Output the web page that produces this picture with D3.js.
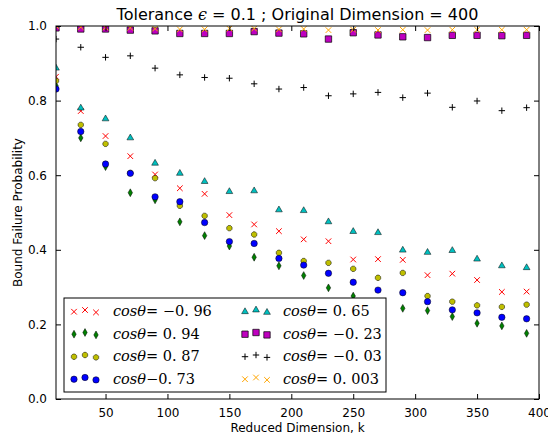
<!DOCTYPE html>
<html><head><meta charset="utf-8">
<script src="https://cdn.jsdelivr.net/npm/d3@7"></script>
<style>body{margin:0;background:#fff}</style>
</head><body>
<svg id="c" width="548" height="439"></svg>
<script>
const ks = [10,30,50,70,90,110,130,150,170,190,210,230,250,270,290,310,330,350,370,390];
const labels = ["−0.96","0.94","0.87","0.73","0.65","−0.23","−0.03","0.003"];
const seriesRed    = [0.864,0.772,0.705,0.651,0.602,0.565,0.550,0.493,0.468,0.450,0.428,0.423,0.374,0.375,0.373,0.332,0.336,0.319,0.287,0.288];
const seriesGreen  = [0.840,0.700,0.623,0.553,0.534,0.475,0.438,0.410,0.380,0.357,0.331,0.298,0.276,0.260,0.243,0.237,0.221,0.203,0.196,0.176];
const seriesYellow = [0.853,0.735,0.684,0.606,0.592,0.518,0.491,0.458,0.441,0.392,0.370,0.365,0.349,0.325,0.338,0.276,0.261,0.251,0.247,0.253];
const seriesBlue   = [0.831,0.717,0.630,0.605,0.542,0.529,0.473,0.422,0.417,0.377,0.359,0.337,0.313,0.292,0.285,0.261,0.239,0.231,0.219,0.215];
const seriesTeal   = [0.887,0.780,0.751,0.700,0.632,0.605,0.583,0.556,0.558,0.507,0.505,0.475,0.449,0.446,0.399,0.393,0.398,0.375,0.357,0.352];
const seriesMag    = [0.995,0.992,0.992,0.989,0.987,0.980,0.980,0.980,0.985,0.981,0.979,0.965,0.982,0.976,0.971,0.969,0.975,0.975,0.974,0.975];
const seriesPlus   = [0.965,0.943,0.916,0.920,0.887,0.869,0.862,0.860,0.845,0.831,0.835,0.813,0.818,0.822,0.808,0.820,0.782,0.799,0.773,0.781];
const seriesOrange = [1.000,0.997,0.996,0.995,0.993,0.991,0.991,0.993,0.993,0.991,0.992,0.989,0.990,0.989,0.990,0.989,0.990,0.990,0.990,0.990];
const xTicks = [50,100,150,200,250,300,350,400];
const yTicks = [0.0,0.2,0.4,0.6,0.8,1.0];

const L=56, R=539, T=26, B=399;
const x = d3.scaleLinear().domain([10,400]).range([L,R]);
const y = d3.scaleLinear().domain([0,1]).range([B,T]);
const svg = d3.select("#c");

const xPath = r => `M${-r},${-r}L${r},${r}M${-r},${r}L${r},${-r}`;
const plusPath = r => `M${-r},0L${r},0M0,${-r}L0,${r}`;
const dPath = (w,h) => `M0,${-h}L${w},0L0,${h}L${-w},0Z`;
const octPath = r => { let p=""; for(let i=0;i<8;i++){const a=Math.PI/8+i*Math.PI/4; p+=(i?"L":"M")+(r*Math.cos(a)).toFixed(2)+","+(r*Math.sin(a)).toFixed(2);} return p+"Z"; };
const triPath = r => `M0,${-r}L${r*0.866},${r*0.5}L${-r*0.866},${r*0.5}Z`;
const sqPath = r => `M${-r},${-r}H${r}V${r}H${-r}Z`;
const circPath = r => d3.arc()({innerRadius:0,outerRadius:r,startAngle:0,endAngle:2*Math.PI});

const series = [
  {vals:seriesRed, path:xPath(2.8), fill:"none", stroke:"#ff0000", sw:1},
  {vals:seriesGreen, path:dPath(2.2,3.9), fill:"#008000", stroke:"#000", sw:0.5},
  {vals:seriesYellow, path:octPath(2.9), fill:"#bfbf00", stroke:"#000", sw:0.5},
  {vals:seriesBlue, path:circPath(3.2), fill:"#0000ff", stroke:"#000", sw:0.5},
  {vals:seriesTeal, path:triPath(3.9), fill:"#00bfbf", stroke:"#000", sw:0.5},
  {vals:seriesMag, path:sqPath(3.2), fill:"#bf00bf", stroke:"#000", sw:0.7},
  {vals:seriesPlus, path:plusPath(3.2), fill:"none", stroke:"#000", sw:1},
  {vals:seriesOrange, path:xPath(2.8), fill:"none", stroke:"#ffa500", sw:1}
];

svg.append("defs").append("clipPath").attr("id","clip")
  .append("rect").attr("x",L).attr("y",T).attr("width",R-L).attr("height",B-T);

const g = svg.append("g").attr("clip-path","url(#clip)");
series.forEach(s=>{
  g.append("g").selectAll("path").data(s.vals).join("path")
    .attr("d",s.path)
    .attr("transform",(d,i)=>`translate(${x(ks[i])},${y(d)})`)
    .attr("fill",s.fill).attr("stroke",s.stroke).attr("stroke-width",s.sw);
});

const tl = -5;
const fmt = d3.format(".1f");
svg.append("g").attr("transform",`translate(0,${B})`)
  .call(d3.axisBottom(x).tickValues(xTicks).tickSize(tl).tickPadding(9).tickFormat(d3.format("d")))
  .call(a=>a.select(".domain").remove());
svg.append("g").attr("transform",`translate(0,${T})`)
  .call(d3.axisTop(x).tickValues(xTicks).tickSize(tl).tickFormat(""))
  .call(a=>a.select(".domain").remove());
svg.append("g").attr("transform",`translate(${L},0)`)
  .call(d3.axisLeft(y).tickValues(yTicks).tickSize(tl).tickPadding(9).tickFormat(fmt))
  .call(a=>a.select(".domain").remove());
svg.append("g").attr("transform",`translate(${R},0)`)
  .call(d3.axisRight(y).tickValues(yTicks).tickSize(tl).tickFormat(""))
  .call(a=>a.select(".domain").remove());
svg.selectAll(".tick text").attr("font-family","DejaVu Sans").attr("font-size",12).attr("fill","#000");
svg.selectAll(".tick line").attr("stroke","#000");

svg.append("rect").attr("x",L).attr("y",T).attr("width",R-L).attr("height",B-T)
  .attr("fill","none").attr("stroke","#000").attr("stroke-width",1);

const title = svg.append("text").attr("x",(L+R)/2).attr("y",20).attr("text-anchor","middle")
  .attr("font-family","DejaVu Sans").attr("font-size",16);
title.append("tspan").text("Tolerance ");
title.append("tspan").attr("font-family","DejaVu Serif").attr("font-style","italic").text("ϵ");
title.append("tspan").text(" = 0.1 ; Original Dimension = 400");

svg.append("text").attr("x",(L+R)/2).attr("y",432).attr("text-anchor","middle")
  .attr("font-family","DejaVu Sans").attr("font-size",12).text("Reduced Dimension, k");
svg.append("text").attr("transform",`translate(22,${(T+B)/2}) rotate(-90)`).attr("text-anchor","middle")
  .attr("font-family","DejaVu Sans").attr("font-size",12).text("Bound Failure Probability");

const lg = svg.append("g");
lg.append("rect").attr("x",64).attr("y",298).attr("width",322).attr("height",94)
  .attr("fill","#fff").attr("stroke","#000").attr("stroke-width",1);
const rowY = [310.5,333,355.5,378];
const colX = [74,245];
const textX = [113,283];
const offs = [1.2,-0.5,1.9];
series.forEach((s,i)=>{
  const col = Math.floor(i/4), row = i%4;
  [0,1,2].forEach(j=>{
    lg.append("path").attr("d",s.path)
      .attr("transform",`translate(${colX[col]+j*11},${rowY[row]+offs[j]})`)
      .attr("fill",s.fill).attr("stroke",s.stroke).attr("stroke-width",s.sw);
  });
  const t = lg.append("text").attr("x",textX[col]).attr("y",rowY[row]+5.5)
    .attr("font-family","DejaVu Serif").attr("font-size",14.5);
  t.append("tspan").attr("font-style","italic").text("cosθ");
  const lab = labels[i];
  if (i===3) {
    t.append("tspan").text("−0. " + lab.slice(2));
  } else {
    t.append("tspan").text("= ");
    t.append("tspan").text(lab.replace(".", ". "));
  }
});
</script>
</body></html>
